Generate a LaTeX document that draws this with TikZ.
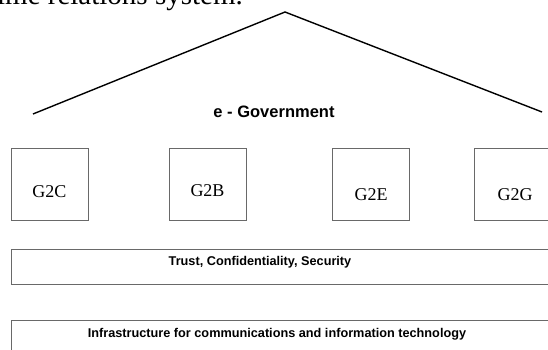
\documentclass[tikz,border=0pt]{standalone}
\usepackage{fontspec}
\setmainfont{Liberation Serif}
\newfontfamily\arialfont{Liberation Sans}
\definecolor{boxGray}{RGB}{105,105,105}

\begin{document}
\begin{tikzpicture}[x=1pt,y=-1pt,
    gbox/.style={draw=boxGray,line width=1pt,minimum width=77pt,minimum height=72pt,inner sep=0pt},
    gtext/.style={font=\fontsize{18}{18}\selectfont,inner sep=0pt},
    layer/.style={draw=boxGray,line width=1pt,anchor=north west,inner sep=0pt,minimum width=560pt},
    layertext/.style={font=\arialfont\bfseries\fontsize{12.7}{13}\selectfont,inner sep=0pt}]
    \useasboundingbox (0,0) rectangle (548,350);

    % Caption line (cut off above)
    \node[anchor=base east,inner sep=0pt,font=\fontsize{29}{29}\selectfont] (caption) at (243,5) {ime relations system.};

    % Roof
    \coordinate (roofL) at (33,114);
    \coordinate (apex) at (285,12);
    \coordinate (roofR) at (542,112);
    \draw[line width=1.4pt] (roofL) -- (apex) -- (roofR);
    \node[font=\arialfont\bfseries\fontsize{16.5}{17}\selectfont,inner sep=0pt] (egov) at (274,112) {e - Government};

    % Relations
    \node[gbox,label={[gtext,yshift=-8pt]center:G2C}] (g2c) at (49.5,184) {};
    \node[gbox,label={[gtext,yshift=-7pt]center:G2B}] (g2b) at (207.5,184) {};
    \node[gbox,label={[gtext,yshift=-11pt]center:G2E}] (g2e) at (371,184) {};
    \node[gbox,label={[gtext,xshift=2pt,yshift=-11pt]center:G2G}] (g2g) at (513,184) {};

    % Layers
    \node[layer,minimum height=35pt] (trust) at (10.5,249) {};
    \node[layertext] (trusttext) at (260,262) {Trust, Confidentiality, Security};
    \node[layer,minimum height=40pt] (infra) at (10.5,320) {};
    \node[layertext] (infratext) at (277,334) {Infrastructure for communications and information technology};
\end{tikzpicture}
\end{document}
